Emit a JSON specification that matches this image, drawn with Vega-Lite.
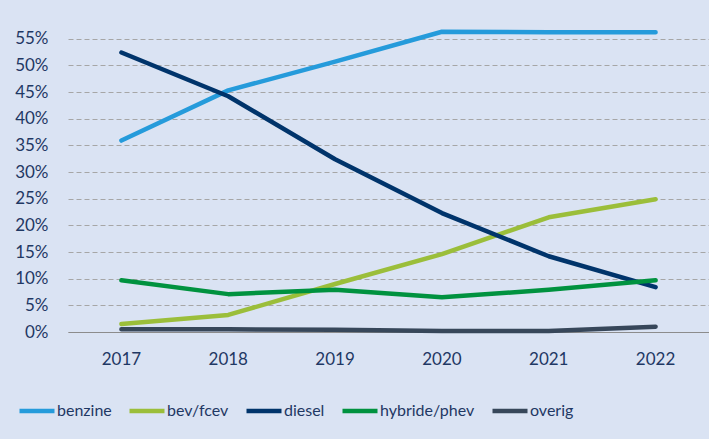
{
  "$schema": "https://vega.github.io/schema/vega-lite/v6.json",
  "autosize": {"type": "none"},
  "padding": {"left": 68, "top": 28, "right": 0, "bottom": 107},
  "width": 641,
  "height": 304,
  "background": "#DAE3F3",
  "config": {
    "view": {"stroke": null},
    "font": "Lato",
    "axis": {"labelFont": "Lato", "labelColor": "#1F3864", "labelFontSize": 17}
  },
  "data": {
    "values": [
      {"jaar": "2017", "soort": "benzine", "aandeel": 0.359},
      {"jaar": "2018", "soort": "benzine", "aandeel": 0.453},
      {"jaar": "2019", "soort": "benzine", "aandeel": 0.507},
      {"jaar": "2020", "soort": "benzine", "aandeel": 0.563},
      {"jaar": "2021", "soort": "benzine", "aandeel": 0.562},
      {"jaar": "2022", "soort": "benzine", "aandeel": 0.562},
      {"jaar": "2017", "soort": "bev/fcev", "aandeel": 0.015},
      {"jaar": "2018", "soort": "bev/fcev", "aandeel": 0.032},
      {"jaar": "2019", "soort": "bev/fcev", "aandeel": 0.090},
      {"jaar": "2020", "soort": "bev/fcev", "aandeel": 0.146},
      {"jaar": "2021", "soort": "bev/fcev", "aandeel": 0.215},
      {"jaar": "2022", "soort": "bev/fcev", "aandeel": 0.249},
      {"jaar": "2017", "soort": "diesel", "aandeel": 0.524},
      {"jaar": "2018", "soort": "diesel", "aandeel": 0.442},
      {"jaar": "2019", "soort": "diesel", "aandeel": 0.324},
      {"jaar": "2020", "soort": "diesel", "aandeel": 0.223},
      {"jaar": "2021", "soort": "diesel", "aandeel": 0.142},
      {"jaar": "2022", "soort": "diesel", "aandeel": 0.084},
      {"jaar": "2017", "soort": "hybride/phev", "aandeel": 0.097},
      {"jaar": "2018", "soort": "hybride/phev", "aandeel": 0.071},
      {"jaar": "2019", "soort": "hybride/phev", "aandeel": 0.079},
      {"jaar": "2020", "soort": "hybride/phev", "aandeel": 0.065},
      {"jaar": "2021", "soort": "hybride/phev", "aandeel": 0.079},
      {"jaar": "2022", "soort": "hybride/phev", "aandeel": 0.097},
      {"jaar": "2017", "soort": "overig", "aandeel": 0.005},
      {"jaar": "2018", "soort": "overig", "aandeel": 0.005},
      {"jaar": "2019", "soort": "overig", "aandeel": 0.004},
      {"jaar": "2020", "soort": "overig", "aandeel": 0.002},
      {"jaar": "2021", "soort": "overig", "aandeel": 0.002},
      {"jaar": "2022", "soort": "overig", "aandeel": 0.010}
    ]
  },
  "mark": {"type": "line", "strokeWidth": 4.5, "strokeCap": "round", "strokeJoin": "round"},
  "encoding": {
    "x": {
      "field": "jaar", "type": "ordinal", "title": null,
      "scale": {"type": "band", "paddingInner": 0, "paddingOuter": 0},
      "axis": {"labelAngle": 0, "ticks": false, "domainColor": "#8C8C8C", "domainWidth": 1.2, "labelPadding": 19, "grid": false}
    },
    "y": {
      "field": "aandeel", "type": "quantitative", "title": null,
      "scale": {"domain": [0, 0.57], "nice": false},
      "axis": {
        "values": [0, 0.05, 0.1, 0.15, 0.2, 0.25, 0.3, 0.35, 0.4, 0.45, 0.5, 0.55],
        "format": ".0%", "domain": false, "ticks": false, "labelPadding": 20,
        "gridColor": "#A6A6A6", "gridDash": [5, 3], "gridWidth": 1
      }
    },
    "color": {
      "field": "soort", "type": "nominal",
      "scale": {
        "domain": ["benzine", "bev/fcev", "diesel", "hybride/phev", "overig"],
        "range": ["#259BDB", "#9BBE3A", "#00346B", "#00923F", "#37475A"]
      },
      "legend": {
        "title": null, "orient": "none", "direction": "horizontal",
        "legendX": -51, "legendY": 363,
        "symbolType": "stroke", "symbolSize": 1225, "symbolStrokeWidth": 4.5,
        "labelFont": "Lato", "labelFontSize": 16, "labelColor": "#1F3864",
        "labelOffset": 0, "columnPadding": 8
      }
    }
  }
}
